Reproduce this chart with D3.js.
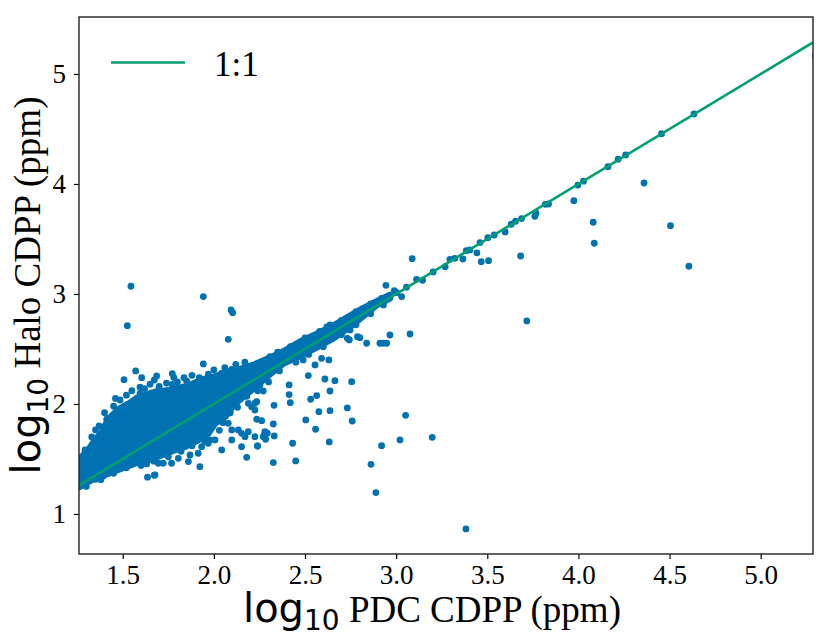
<!DOCTYPE html>
<html><head><meta charset="utf-8">
<script src="https://cdn.jsdelivr.net/npm/d3@7"></script>
<style>body{margin:0;background:#fff}</style>
</head><body>
<svg id="c" width="831" height="644"></svg>
<script>
// ---- data ----
const xTicks = [1.5, 2.0, 2.5, 3.0, 3.5, 4.0, 4.5, 5.0];
const yTicks = [1, 2, 3, 4, 5];
const xDomain = [1.26, 5.287];
const yDomain = [0.636, 5.518];
const lineLabel = "1:1";

// Envelope of the densely packed (overlapping) points, traced as marker centres
const denseTopX = [1.265,1.311,1.348,1.385,1.421,1.476,1.53,1.585,1.659,1.732,1.787,1.86,1.933,2.006,2.079,2.152,2.225,2.308,2.381,2.472,2.564,2.655,2.747,2.82,2.893,2.966];
const denseTopY = [1.50,1.58,1.67,1.74,1.86,1.95,2.00,2.06,2.10,2.12,2.135,2.165,2.22,2.25,2.29,2.32,2.36,2.42,2.475,2.565,2.635,2.71,2.80,2.87,2.93,2.991];
const denseBotX = [2.966,2.893,2.82,2.747,2.655,2.564,2.472,2.381,2.29,2.207,2.152,2.116,2.061,2.006,1.969,1.914,1.841,1.787,1.714,1.64,1.567,1.494,1.421,1.348,1.293,1.265];
const denseBotY = [2.961,2.9,2.80,2.703,2.597,2.515,2.436,2.37,2.248,2.127,2.052,2.006,1.885,1.824,1.733,1.673,1.612,1.582,1.536,1.491,1.461,1.415,1.37,1.325,1.279,1.248];

// Individually visible points
const pdcCDPP = [5.30,4.634,4.456,4.36,4.259,4.218,4.162,4.028,3.997,3.975,3.836,3.818,3.767,3.761,3.688,3.655,3.631,3.598,3.538,3.503,
3.46,3.443,3.405,3.385,3.467,3.507,3.366,3.322,3.295,3.269,3.683,4.081,4.087,4.505,4.606,3.717,3.088,3.203,3.145,3.112,
3.057,3.03,3.003,2.944,2.966,3.076,2.911,2.929,2.948,2.788,2.801,2.743,2.747,2.637,2.308,2.253,2.49,2.555,2.591,2.631,
2.518,2.609,2.664,2.756,2.413,2.413,2.419,2.637,2.564,2.531,2.33,2.732,2.637,2.576,2.759,2.504,2.558,3.052,2.326,2.235,
2.262,2.28,2.293,2.271,2.331,2.432,2.633,2.238,2.326,2.449,2.92,3.021,3.198,2.862,2.225,2.207,2.271,2.253,2.889,3.383,
1.545,1.525,1.942,2.094,2.103,2.079,1.942,1.571,1.507,1.604,1.686,1.772,1.836,1.595,1.695,1.744,1.485,1.412,1.43,1.351,
1.284,1.636,1.673,2.838,2.732,1.673,1.772,1.595,1.677,1.896,2.043,2.098,2.183,2.253,1.421,1.293,2.189,2.235,2.225,2.189,
2.225,2.276,2.284,2.152,2.171,2.134,2.079,2.098,2.152,2.24,2.18,2.098,2.043,1.978,2.006,1.933,1.969,1.914,1.923,1.869,
1.86,1.805,1.768,1.722,1.677,1.695,1.631,1.549,1.476,1.421,1.393,1.351,1.457,
1.33,1.37,1.40,1.45,1.46,1.52,1.55,1.62,1.65,1.70,1.74,1.80,1.85,1.88,1.97,2.00,2.12,2.17,2.06,1.92,1.78,
1.30,1.38,1.45,1.52,1.60,1.67,1.75,1.82,1.88,1.95,2.03,2.05,2.09,2.13,2.18,2.24,2.30,2.36,2.45,2.52,2.60,2.70,2.78,2.86,2.93,
2.35,2.42,2.50,2.58,2.62,2.70,2.78,2.86,2.92,2.99];
const haloCDPP = [5.165,4.636,4.457,4.009,4.264,4.225,4.157,4.025,3.99,3.848,3.818,3.815,3.734,3.706,3.685,3.661,3.634,3.564,3.536,3.512,
3.467,3.373,3.40,3.394,3.294,3.303,3.318,3.324,3.315,3.248,3.345,3.652,3.461,3.621,3.252,2.755,3.321,3.20,3.124,3.133,
3.061,2.976,3.012,3.079,2.627,2.636,2.552,2.552,2.552,2.612,2.603,2.582,2.673,2.718,2.43,2.37,2.40,2.355,2.415,2.40,
2.258,2.227,2.212,2.203,2.173,2.085,2.012,2.118,2.076,2.043,1.988,1.964,1.939,1.93,1.845,1.855,1.77,1.897,1.818,1.861,
1.848,1.748,1.734,1.703,1.709,1.643,1.655,1.618,1.467,1.482,1.621,1.673,1.697,1.451,2.006,1.975,2.118,2.173,1.194,0.864,
3.07,2.712,2.976,2.855,2.83,2.588,2.364,2.30,2.221,2.239,2.255,2.275,2.239,2.152,2.127,2.082,2.036,1.861,1.809,1.764,
1.406,1.334,1.352,2.552,2.597,2.218,2.179,2.097,2.103,2.158,2.279,2.315,2.339,2.376,1.87,1.582,2.006,2.021,1.945,1.748,
1.703,1.718,1.679,1.733,1.703,1.764,1.824,1.764,1.612,1.618,1.515,1.673,1.582,1.673,1.673,1.612,1.643,1.552,1.43,1.536,
1.476,1.506,1.461,1.461,1.355,1.461,1.455,1.476,1.455,1.37,1.345,1.315,1.415,
1.70,1.80,1.92,1.98,2.05,2.08,2.12,2.14,2.18,2.16,2.19,2.20,2.21,2.26,2.27,2.31,2.36,2.38,2.33,2.24,2.24,
1.25,1.31,1.37,1.42,1.44,1.48,1.52,1.57,1.62,1.66,1.76,1.83,1.92,1.97,2.07,2.12,2.20,2.30,2.38,2.45,2.52,2.63,2.72,2.82,2.90,
2.47,2.52,2.60,2.66,2.70,2.76,2.84,2.91,2.96,3.03];

// ---- layout / style ----
const W = 831, H = 644;
const m = {l: 79, r: 813, t: 17, b: 554};
const blue = "#0072B2", green = "#009E73";
const serif = "'Liberation Serif','Times New Roman',serif";
const sans = "'DejaVu Sans',sans-serif";
const R = 3.4;

const svg = d3.select("#c");
const x = d3.scaleLinear().domain(xDomain).range([m.l, m.r]);
const y = d3.scaleLinear().domain(yDomain).range([m.b, m.t]);

svg.append("defs").append("clipPath").attr("id", "clip")
  .append("rect").attr("x", m.l).attr("y", m.t).attr("width", m.r - m.l).attr("height", m.b - m.t);

const plot = svg.append("g").attr("clip-path", "url(#clip)");

// dense region
const dense = denseTopX.map((v, i) => [v, denseTopY[i]])
  .concat(denseBotX.map((v, i) => [v, denseBotY[i]]));
plot.append("path")
  .attr("d", d3.line().x(d => x(d[0])).y(d => y(d[1])).curve(d3.curveLinearClosed)(dense))
  .attr("fill", blue).attr("stroke", blue).attr("stroke-width", 2 * R).attr("stroke-linejoin", "round");

// scatter
plot.selectAll("circle.pt").data(pdcCDPP.map((v, i) => [v, haloCDPP[i]]))
  .enter().append("circle").attr("class", "pt")
  .attr("cx", d => x(d[0])).attr("cy", d => y(d[1])).attr("r", R).attr("fill", blue);

// 1:1 line
plot.append("line")
  .attr("x1", x(xDomain[0])).attr("y1", y(xDomain[0]))
  .attr("x2", x(xDomain[1])).attr("y2", y(xDomain[1]))
  .attr("stroke", green).attr("stroke-width", 2.6);

// axes
const xAxis = svg.append("g").attr("transform", `translate(0,${m.b})`)
  .call(d3.axisBottom(x).tickValues(xTicks).tickFormat(d3.format(".1f")).tickSizeOuter(0).tickSize(5).tickPadding(6));
const yAxis = svg.append("g").attr("transform", `translate(${m.l},0)`)
  .call(d3.axisLeft(y).tickValues(yTicks).tickFormat(d3.format("d")).tickSizeOuter(0).tickSize(5).tickPadding(8));
[xAxis, yAxis].forEach(g => {
  g.select(".domain").remove();
  g.selectAll(".tick line").attr("stroke", "#000").attr("stroke-width", 1.2);
  g.selectAll(".tick text").attr("font-family", serif).attr("font-size", 27).attr("fill", "#000");
});

// frame
svg.append("rect").attr("x", m.l).attr("y", m.t).attr("width", m.r - m.l).attr("height", m.b - m.t)
  .attr("fill", "none").attr("stroke", "#222").attr("stroke-width", 1.4);

// axis labels
function label(g) {
  g.append("tspan").attr("font-family", sans).attr("font-size", 40).text("log");
  g.append("tspan").attr("font-family", sans).attr("font-size", 28).attr("dy", 8).text("10");
  g.append("tspan").attr("font-family", serif).attr("dy", -8).text("\u00a0");
}
const xl = svg.append("text").attr("x", (m.l + m.r) / 2 - 14).attr("y", 622)
  .attr("text-anchor", "middle").attr("font-size", 37).attr("fill", "#000");
label(xl);
xl.append("tspan").attr("font-family", serif).text("PDC CDPP (ppm)");

const yl = svg.append("text").attr("transform", `translate(40,${(m.t + m.b) / 2}) rotate(-90)`)
  .attr("text-anchor", "middle").attr("font-size", 37).attr("fill", "#000");
label(yl);
yl.append("tspan").attr("font-family", serif).text("Halo CDPP (ppm)");

// legend
svg.append("line").attr("x1", 111).attr("x2", 185).attr("y1", 62.5).attr("y2", 62.5)
  .attr("stroke", green).attr("stroke-width", 2.6);
svg.append("text").attr("x", 214).attr("y", 76).attr("font-family", serif).attr("font-size", 35)
  .attr("fill", "#000").text(lineLabel);
</script>
</body></html>
